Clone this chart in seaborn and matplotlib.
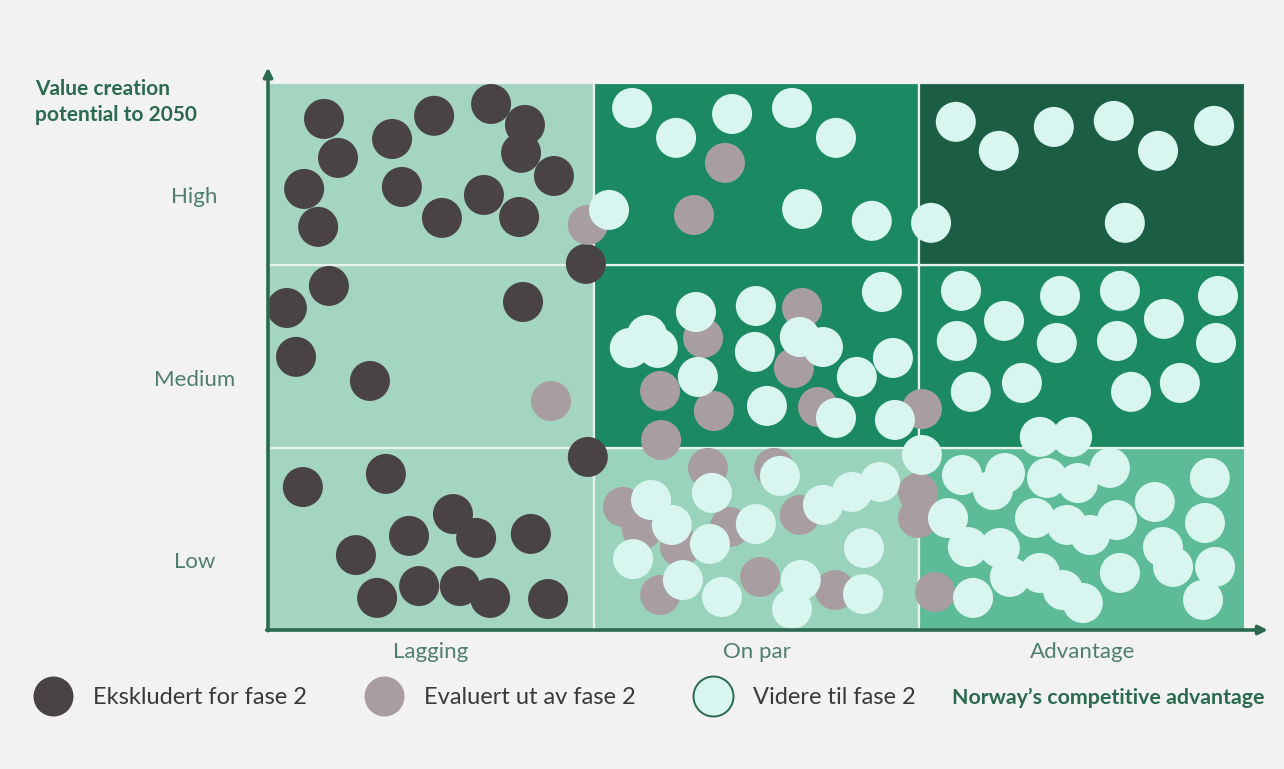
import matplotlib
matplotlib.use("Agg")
import matplotlib.pyplot as plt
from matplotlib.patches import Rectangle
from matplotlib.lines import Line2D
import seaborn as sns
import pandas as pd

# ---- data -------------------------------------------------------------
# x: Norway's competitive advantage (0-1 Lagging, 1-2 On par, 2-3 Advantage)
# y: value creation potential to 2050 (0-1 Low, 1-2 Medium, 2-3 High)
columns = ["Lagging", "On par", "Advantage"]
rows = ["Low", "Medium", "High"]
status_labels = ["Ekskludert for fase 2", "Evaluert ut av fase 2", "Videre til fase 2"]

excluded_x = [0.172, 0.215, 0.111, 0.154, 0.381, 0.510, 0.411, 0.534, 0.685, 0.789,
              0.777, 0.878, 0.663, 0.771, 0.976, 0.187, 0.058, 0.086, 0.313, 0.783,
              0.982, 0.107, 0.362, 0.568, 0.433, 0.639, 0.807, 0.270, 0.335, 0.464,
              0.589, 0.682, 0.860]
excluded_y = [2.803, 2.589, 2.419, 2.211, 2.693, 2.820, 2.430, 2.260, 2.885, 2.770,
              2.617, 2.490, 2.386, 2.265, 2.008, 1.887, 1.766, 1.498, 1.366, 1.799,
              0.949, 0.784, 0.856, 0.636, 0.516, 0.505, 0.527, 0.411, 0.176, 0.241,
              0.241, 0.176, 0.170]

evaluated_x = [0.982, 1.403, 1.308, 0.869, 1.640, 1.336, 1.615, 1.204, 1.369, 1.689,
               2.008, 1.207, 1.351, 1.554, 1.090, 1.148, 1.418, 1.633, 1.265, 1.511,
               1.204, 1.741, 1.996, 1.996, 2.048]
evaluated_y = [2.222, 2.562, 2.276, 1.256, 1.766, 1.602, 1.437, 1.311, 1.201, 1.223,
               1.212, 1.042, 0.889, 0.889, 0.675, 0.549, 0.565, 0.631, 0.455, 0.291,
               0.192, 0.219, 0.752, 0.614, 0.208]

continued_x = [1.118, 1.253, 1.425, 1.609, 1.744, 1.047, 1.640, 1.854, 2.036,
               2.112, 2.244, 2.413, 2.597, 2.733, 2.905, 2.631,
               1.885, 1.314, 1.498, 1.111, 1.164, 1.197, 1.495, 1.633, 1.704,
               1.320, 1.532, 1.808, 1.919, 1.744, 1.925,
               2.128, 2.260, 2.432, 2.616, 2.751, 2.917, 2.115, 2.422, 2.607,
               2.911, 2.158, 2.315, 2.650, 2.800,
               1.572, 1.176, 1.363, 1.240, 1.498, 1.357, 1.121, 1.274, 1.394,
               1.636, 1.609, 1.827, 1.830, 1.704, 1.793, 1.879, 2.008,
               2.131, 2.263, 2.226, 2.370, 2.469, 2.392, 2.487, 2.585, 2.088,
               2.355, 2.453, 2.524, 2.607, 2.723, 2.892, 2.877, 2.149, 2.247,
               2.748, 2.779, 2.908, 2.278, 2.370, 2.441, 2.502, 2.616, 2.165, 2.871]
continued_y = [2.863, 2.699, 2.830, 2.863, 2.699, 2.304, 2.309, 2.244, 2.233,
               2.787, 2.628, 2.759, 2.792, 2.628, 2.765, 2.233,
               1.854, 1.744, 1.777, 1.547, 1.618, 1.547, 1.525, 1.607, 1.552,
               1.388, 1.229, 1.388, 1.492, 1.163, 1.152,
               1.860, 1.695, 1.832, 1.860, 1.706, 1.832, 1.585, 1.574, 1.585,
               1.574, 1.306, 1.355, 1.306, 1.355,
               0.845, 0.713, 0.752, 0.576, 0.581, 0.472, 0.389, 0.274, 0.181,
               0.274, 0.115, 0.197, 0.450, 0.686, 0.757, 0.812, 0.960,
               0.850, 0.861, 0.768, 1.059, 1.059, 0.834, 0.806, 0.889, 0.614,
               0.614, 0.576, 0.521, 0.603, 0.702, 0.834, 0.587, 0.455, 0.450,
               0.455, 0.346, 0.346, 0.291, 0.313, 0.219, 0.148, 0.313, 0.176, 0.165]

# ---- styling ----------------------------------------------------------
BG = "#f2f2f2"
AXIS_GREEN = "#2b6a4f"
LABEL_GREEN = "#4f7f6b"
status_colors = {status_labels[0]: "#4a4345",
                 status_labels[1]: "#a89ea2",
                 status_labels[2]: "#d8f6ef"}
# cell fill colours, bottom row first
cell_colors = [["#a4d5c0", "#9ad3bb", "#5dbb97"],
               ["#a4d5c0", "#1b8a62", "#1b8a62"],
               ["#a4d5c0", "#1b8a62", "#1b5e44"]]

sns.set_theme(style="white")
plt.rcParams["font.family"] = ["Lato", "DejaVu Sans"]

df = pd.DataFrame({
    "x": excluded_x + evaluated_x + continued_x,
    "y": excluded_y + evaluated_y + continued_y,
    "status": [status_labels[0]] * len(excluded_x)
              + [status_labels[1]] * len(evaluated_x)
              + [status_labels[2]] * len(continued_x),
})

fig = plt.figure(figsize=(12.84, 7.69), dpi=100, facecolor=BG)
W, H = 1284, 769
ax = fig.add_axes([268 / W, 1 - 630 / H, (1245 - 268) / W, (630 - 83) / H])
ax.set_facecolor(BG)
ax.set_xlim(0, 3)
ax.set_ylim(0, 3)

# 3x3 background grid
for r in range(3):
    for c in range(3):
        ax.add_patch(Rectangle((c, r), 1, 1, facecolor=cell_colors[r][c],
                               edgecolor="#e8f1ec", linewidth=1.6, zorder=1))

sns.scatterplot(data=df, x="x", y="y", hue="status", palette=status_colors,
                hue_order=status_labels, s=830, linewidth=0, legend=False,
                ax=ax, zorder=3, clip_on=False)

for s in ax.spines.values():
    s.set_visible(False)

# axis arrows
arrow_kw = dict(arrowstyle="-|>", color=AXIS_GREEN, lw=2.6, mutation_scale=13,
                shrinkA=0, shrinkB=0)
ax.annotate("", xy=(0, 3.085), xytext=(0, -0.004), arrowprops=arrow_kw,
            annotation_clip=False, zorder=5)
ax.annotate("", xy=(3.07, 0), xytext=(-0.004, 0), arrowprops=arrow_kw,
            annotation_clip=False, zorder=5)

ax.set_xticks([0.5, 1.5, 2.5])
ax.set_xticklabels(columns)
ax.set_yticks([0.384, 1.382, 2.386])
ax.set_yticklabels(rows)
ax.set_xlabel("")
ax.set_ylabel("")
ax.tick_params(axis="x", length=0, pad=9, labelsize=16, labelcolor=LABEL_GREEN)
ax.tick_params(axis="y", length=0, pad=53, labelsize=16, labelcolor=LABEL_GREEN)
for lab in ax.get_yticklabels():
    lab.set_horizontalalignment("center")

fig.text(35 / W, 1 - 79 / H, "Value creation\npotential to 2050", ha="left", va="top",
         fontsize=15, fontweight="bold", color=AXIS_GREEN, linespacing=1.35)

# legend
handles = [Line2D([], [], marker="o", linestyle="none", markersize=28.8,
                  markerfacecolor=status_colors[lbl],
                  markeredgecolor=(AXIS_GREEN if i == 2 else status_colors[lbl]),
                  markeredgewidth=(1.4 if i == 2 else 0))
           for i, lbl in enumerate(status_labels)]
fig.legend(handles, status_labels, ncol=3, loc="center left",
           bbox_to_anchor=(33 / W, 1 - 698 / H), frameon=False, fontsize=17,
           labelcolor="#3a3a3a", handlelength=1.7, handletextpad=0.85,
           columnspacing=2.41, borderpad=0, borderaxespad=0)
fig.text(1265 / W, 1 - 698 / H, "Norway\u2019s competitive advantage", ha="right",
         va="center", fontsize=15.4, fontweight="bold", color=AXIS_GREEN)

fig.savefig("out.png", dpi=100, facecolor=BG)
